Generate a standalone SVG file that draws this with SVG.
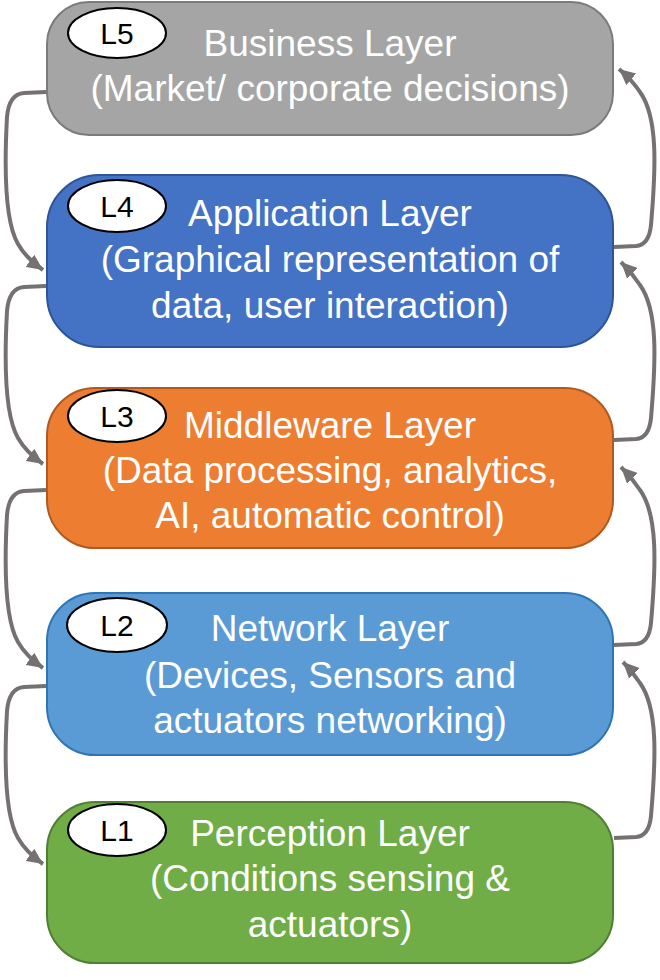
<svg xmlns="http://www.w3.org/2000/svg" width="660" height="980" viewBox="0 0 660 980">
<style>
.box{stroke-width:2}
.t{font-family:"Liberation Sans",Arial,sans-serif;font-size:37px;fill:#ffffff;text-anchor:middle}
.lbl{fill:#ffffff;stroke:#000000;stroke-width:2}
.lt{font-family:"Liberation Sans",Arial,sans-serif;font-size:30px;fill:#000000;text-anchor:middle}
.c{fill:none;stroke:#767171;stroke-width:4;marker-end:url(#ah)}
</style>
<defs>
<marker id="ah" markerUnits="userSpaceOnUse" markerWidth="17" markerHeight="15" refX="16" refY="7.5" orient="auto">
<path d="M0,0 L16,7.5 L0,15 z" fill="#767171"/>
</marker>
</defs>
<rect width="660" height="980" fill="#ffffff"/>
<g id="L5">
<rect class="box" x="47" y="2" width="566" height="133" rx="42" fill="#a5a5a5" stroke="#7b7b7b"/>
<ellipse class="lbl" cx="117" cy="33" rx="49" ry="25"/>
<text class="lt" x="117" y="44">L5</text>
<text class="t" x="330" y="56">Business Layer</text>
<text class="t" x="330" y="101">(Market/ corporate decisions)</text>
</g>
<g id="L4">
<rect class="box" x="47" y="175" width="566" height="172" rx="52" fill="#4472c4" stroke="#2f5597"/>
<ellipse class="lbl" cx="117" cy="206" rx="49" ry="26"/>
<text class="lt" x="117" y="217">L4</text>
<text class="t" x="330" y="226">Application Layer</text>
<text class="t" x="330" y="272">(Graphical representation of</text>
<text class="t" x="330" y="318">data, user interaction)</text>
</g>
<g id="L3">
<rect class="box" x="47" y="388" width="566" height="160" rx="48" fill="#ed7d31" stroke="#ae5a21"/>
<ellipse class="lbl" cx="117" cy="416" rx="49" ry="26"/>
<text class="lt" x="117" y="427">L3</text>
<text class="t" x="330" y="438">Middleware Layer</text>
<text class="t" x="330" y="483">(Data processing, analytics,</text>
<text class="t" x="330" y="528">AI, automatic control)</text>
</g>
<g id="L2">
<rect class="box" x="47" y="593" width="566" height="162" rx="48" fill="#5b9bd5" stroke="#2e75b6"/>
<ellipse class="lbl" cx="117" cy="625" rx="50" ry="27"/>
<text class="lt" x="117" y="636">L2</text>
<text class="t" x="330" y="641">Network Layer</text>
<text class="t" x="330" y="688">(Devices, Sensors and</text>
<text class="t" x="330" y="733">actuators networking)</text>
</g>
<g id="L1">
<rect class="box" x="47" y="802" width="566" height="161" rx="48" fill="#70ad47" stroke="#507e32"/>
<ellipse class="lbl" cx="117" cy="830" rx="49" ry="26"/>
<text class="lt" x="117" y="841">L1</text>
<text class="t" x="330" y="846">Perception Layer</text>
<text class="t" x="330" y="891">(Conditions sensing &amp;</text>
<text class="t" x="330" y="937">actuators)</text>
</g>
<g id="connectors">
<path class="c" d="M46,92 L24,93 Q9,94 7,117 C4,172 5,222 18,244 Q26,258 43,270"/>
<path class="c" d="M46,286 L24,287 Q9,288 7,311 C4,366 5,416 18,438 Q26,452 43,464"/>
<path class="c" d="M46,490 L24,491 Q9,492 7,515 C4,570 5,620 18,642 Q26,656 43,668"/>
<path class="c" d="M46,686 L24,687 Q9,688 7,711 C4,766 5,816 18,838 Q26,852 43,864"/>
<path class="c" d="M614,247 L636,246 Q649,245 651,225 C656,167 658,117 640,92 Q632,80 619,69"/>
<path class="c" d="M614,440 L636,439 Q649,438 651,418 C656,360 658,310 640,285 Q632,273 621,262"/>
<path class="c" d="M614,645 L636,644 Q649,643 651,623 C656,565 658,515 640,490 Q632,478 621,467"/>
<path class="c" d="M614,838 L636,837 Q649,836 651,816 C656,758 658,708 640,683 Q632,671 623,662"/>
</g>
</svg>
